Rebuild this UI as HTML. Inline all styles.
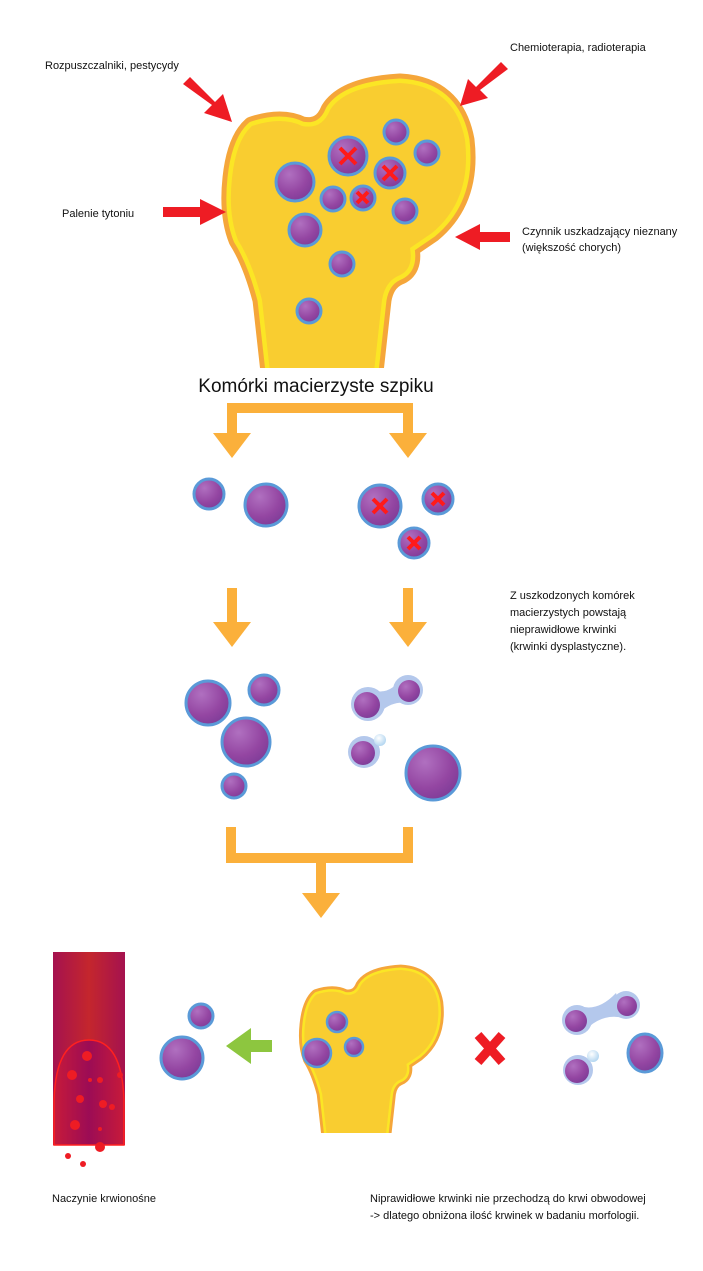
<!DOCTYPE html>
<html><head><meta charset="utf-8"><style>
html,body{margin:0;padding:0;background:#fff;}
svg{display:block;}
text{font-family:"Liberation Sans","DejaVu Sans",sans-serif;fill:#111;}
</style></head><body>
<svg width="703" height="1271" viewBox="0 0 703 1271" xmlns="http://www.w3.org/2000/svg">
<defs>
<radialGradient id="cg" cx="0.35" cy="0.3" r="0.8">
<stop offset="0" stop-color="#b070c0"/><stop offset="0.6" stop-color="#9446a2"/><stop offset="1" stop-color="#7a3a96"/>
</radialGradient>
<radialGradient id="bb" cx="0.4" cy="0.35" r="0.7">
<stop offset="0" stop-color="#ffffff"/><stop offset="1" stop-color="#aed3ef"/>
</radialGradient>
<linearGradient id="vg" x1="0" x2="1" y1="0" y2="0">
<stop offset="0" stop-color="#a5124f"/><stop offset="0.5" stop-color="#c4262d"/><stop offset="1" stop-color="#a5124f"/>
</linearGradient>
<linearGradient id="vg2" x1="0" x2="1" y1="0" y2="0">
<stop offset="0" stop-color="#c71a3a"/><stop offset="0.5" stop-color="#9c0c55"/><stop offset="1" stop-color="#c71a3a"/>
</linearGradient>
<clipPath id="bc"><rect x="0" y="0" width="703" height="368"/></clipPath>
</defs>

<g clip-path="url(#bc)">
<g id="bonep">
<path d="M270,372 L262,300 Q252,262 238,240 Q228,215 232,178 Q236,140 252,126 Q282,116 302,126 Q322,130 330,110 Q345,86 400,83 Q455,86 465,140 Q472,200 432,233 L410,248 Q414,270 398,276 Q385,282 382,300 L374,372 Z" fill="none" stroke="#f5a63a" stroke-width="19" stroke-linejoin="round"/>
<path d="M270,372 L262,300 Q252,262 238,240 Q228,215 232,178 Q236,140 252,126 Q282,116 302,126 Q322,130 330,110 Q345,86 400,83 Q455,86 465,140 Q472,200 432,233 L410,248 Q414,270 398,276 Q385,282 382,300 L374,372 Z" fill="none" stroke="#fbe625" stroke-width="9" stroke-linejoin="round"/>
<path d="M270,372 L262,300 Q252,262 238,240 Q228,215 232,178 Q236,140 252,126 Q282,116 302,126 Q322,130 330,110 Q345,86 400,83 Q455,86 465,140 Q472,200 432,233 L410,248 Q414,270 398,276 Q385,282 382,300 L374,372 Z" fill="#f9cd30"/>
</g>
</g>

<g stroke="#5a9ad8" stroke-width="3" fill="url(#cg)">
<circle cx="396" cy="132" r="12"/><circle cx="427" cy="153" r="12"/>
<circle cx="295" cy="182" r="19"/><circle cx="348" cy="156" r="19"/>
<circle cx="390" cy="173" r="15"/><circle cx="333" cy="199" r="12"/>
<circle cx="363" cy="198" r="12"/><circle cx="405" cy="211" r="12"/>
<circle cx="305" cy="230" r="16"/><circle cx="342" cy="264" r="12"/>
<circle cx="309" cy="311" r="12"/>
</g>
<g stroke="#ff1a1a" stroke-width="4">
<path d="M340,148 L356,164 M356,148 L340,164"/>
<path d="M383,166 L397,180 M397,166 L383,180"/>
<path d="M357,192 L368,203 M368,192 L357,203"/>
</g>

<g fill="#ee1c24">
<polygon points="183,84 190,77 215,102 223,94 232,122 204,113 212,105"/>
<polygon points="163,207 200,207 200,199 226,212 200,225 200,217 163,217"/>
<polygon points="508,69 501,62 476,87 468,79 460,106 488,98 480,90"/>
<polygon points="510,232 480,232 480,224 455,237 480,250 480,242 510,242"/>
</g>
<text x="45" y="69" font-size="11">Rozpuszczalniki, pestycydy</text>
<text x="510" y="51" font-size="11">Chemioterapia, radioterapia</text>
<text x="62" y="217" font-size="11">Palenie tytoniu</text>
<text x="522" y="235" font-size="11">Czynnik uszkadzający nieznany</text>
<text x="522" y="251" font-size="11">(większość chorych)</text>

<text x="316" y="392" font-size="19" text-anchor="middle">Komórki macierzyste szpiku</text>

<g fill="#fbb03b">
<rect x="227" y="403" width="186" height="10"/>
<rect x="227" y="403" width="10" height="32"/><rect x="403" y="403" width="10" height="32"/>
<polygon points="213,433 251,433 232,458"/><polygon points="389,433 427,433 408,458"/>
<rect x="227" y="588" width="10" height="36"/><rect x="403" y="588" width="10" height="36"/>
<polygon points="213,622 251,622 232,647"/><polygon points="389,622 427,622 408,647"/>
<rect x="226" y="827" width="10" height="36"/><rect x="403" y="827" width="10" height="36"/>
<rect x="226" y="853" width="187" height="10"/>
<rect x="316" y="860" width="10" height="35"/>
<polygon points="302,893 340,893 321,918"/>
</g>

<g stroke="#5a9ad8" stroke-width="3" fill="url(#cg)">
<circle cx="209" cy="494" r="15"/><circle cx="266" cy="505" r="21"/>
<circle cx="380" cy="506" r="21"/><circle cx="438" cy="499" r="15"/><circle cx="414" cy="543" r="15"/>
</g>
<g stroke="#ff1a1a" stroke-width="4">
<path d="M373,499 L387,513 M387,499 L373,513"/>
<path d="M432,493 L444,505 M444,493 L432,505"/>
<path d="M408,537 L420,549 M420,537 L408,549"/>
</g>

<text x="510" y="599" font-size="11">Z uszkodzonych komórek</text>
<text x="510" y="616" font-size="11">macierzystych powstają</text>
<text x="510" y="633" font-size="11">nieprawidłowe krwinki</text>
<text x="510" y="650" font-size="11">(krwinki dysplastyczne).</text>

<g stroke="#5a9ad8" stroke-width="3" fill="url(#cg)">
<circle cx="208" cy="703" r="22"/><circle cx="264" cy="690" r="15"/>
<circle cx="246" cy="742" r="24"/><circle cx="234" cy="786" r="12"/>
<circle cx="433" cy="773" r="27"/>
</g>
<g fill="#b4c8ec">
<circle cx="368" cy="704" r="17"/><circle cx="408" cy="690" r="15"/>
<path d="M372,690 Q390,696 402,677 L412,704 Q390,698 374,719 Z"/>
<circle cx="364" cy="752" r="16"/>
</g>
<circle cx="380" cy="740" r="6" fill="url(#bb)"/>
<g fill="url(#cg)">
<circle cx="367" cy="705" r="13"/><circle cx="409" cy="691" r="11"/><circle cx="363" cy="753" r="12"/>
</g>

<rect x="53" y="952" width="72" height="193" fill="url(#vg)"/>
<path d="M54,1145 L54,1100 Q56,1040 89,1040 Q122,1040 124,1100 L124,1145 Z" fill="url(#vg2)" stroke="#ff2020" stroke-width="1.5"/>
<g fill="#ee1c24">
<circle cx="72" cy="1075" r="5"/><circle cx="87" cy="1056" r="5"/><circle cx="100" cy="1080" r="3"/>
<circle cx="80" cy="1099" r="4"/><circle cx="103" cy="1104" r="4"/><circle cx="112" cy="1107" r="3"/>
<circle cx="75" cy="1125" r="5"/><circle cx="90" cy="1080" r="2"/><circle cx="100" cy="1129" r="2"/>
<circle cx="100" cy="1147" r="5"/><circle cx="68" cy="1156" r="3"/><circle cx="83" cy="1164" r="3"/>
<circle cx="120" cy="1075" r="3"/>
</g>
<g stroke="#5a9ad8" stroke-width="3" fill="url(#cg)">
<circle cx="201" cy="1016" r="12"/><circle cx="182" cy="1058" r="21"/>
</g>
<polygon points="226,1046 251,1028 251,1040 272,1040 272,1052 251,1052 251,1064" fill="#8dc63f"/>

<g transform="translate(305,970) scale(0.57) translate(-232,-83)">
<use href="#bonep"/>
</g>
<rect x="300" y="1133" width="150" height="10" fill="#fff"/>
<g stroke="#5a9ad8" stroke-width="2.5" fill="url(#cg)">
<circle cx="337" cy="1022" r="10"/><circle cx="317" cy="1053" r="14"/><circle cx="354" cy="1047" r="9"/>
</g>

<path d="M478,1035 L502,1062 M502,1035 L478,1062" stroke="#ee1c24" stroke-width="9"/>

<g fill="#b4c8ec">
<circle cx="577" cy="1020" r="15"/><circle cx="626" cy="1005" r="14"/>
<path d="M580,1006 Q598,1012 616,993 L624,1018 Q600,1012 582,1034 Z"/>
<circle cx="578" cy="1070" r="15"/>
</g>
<circle cx="593" cy="1056" r="6" fill="url(#bb)"/>
<g fill="url(#cg)">
<circle cx="576" cy="1021" r="11"/><circle cx="627" cy="1006" r="10"/><circle cx="577" cy="1071" r="12"/>
</g>
<ellipse cx="645" cy="1053" rx="17" ry="19" fill="url(#cg)" stroke="#5a9ad8" stroke-width="3"/>

<text x="52" y="1202" font-size="11">Naczynie krwionośne</text>
<text x="370" y="1202" font-size="11">Niprawidłowe krwinki nie przechodzą do krwi obwodowej</text>
<text x="370" y="1219" font-size="11">-&gt; dlatego obniżona ilość krwinek w badaniu morfologii.</text>
</svg>
</body></html>
